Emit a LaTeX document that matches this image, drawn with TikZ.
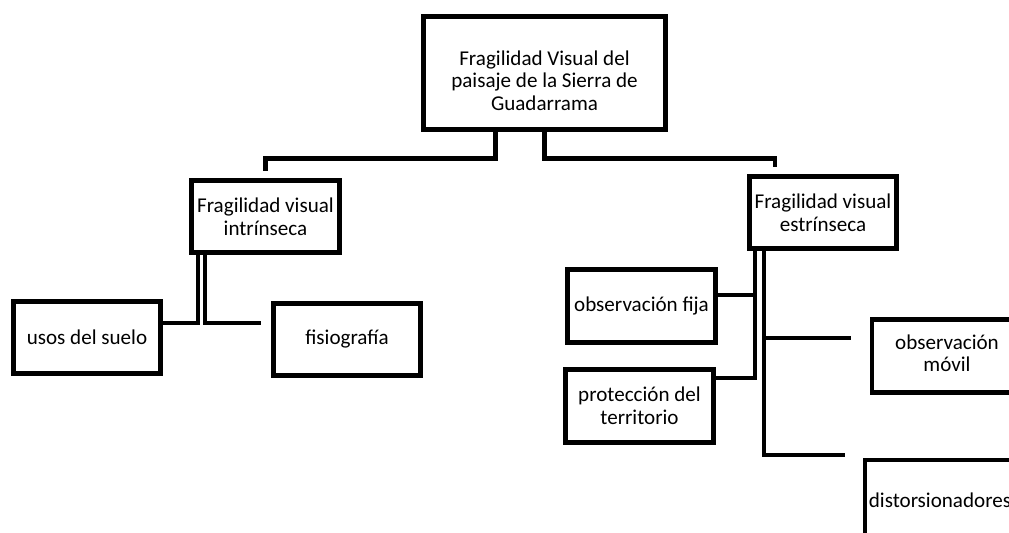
\documentclass[tikz,border=0pt]{standalone}
\usepackage{fontspec}
\setmainfont{Carlito}
\usepackage{tikz}

\begin{document}
\begin{tikzpicture}[x=0.02cm,y=-0.02cm,
    font=\fontsize{12}{13}\selectfont,
    box/.style={draw,line width=2.8pt,align=center,inner sep=1pt,
      minimum width=2.95cm,minimum height=1.45cm},
    cutbox/.style={box,minimum width=3.6cm},
    link/.style={line width=2.8pt}]
  \path[use as bounding box,clip] (0,0) rectangle (1009,532);

  \node[box,minimum width=4.85cm,minimum height=2.27cm] (top) at (544.5,73)
    {\rule{0pt}{17pt}Fragilidad Visual del\\paisaje de la Sierra de\\Guadarrama};
  \node[box] (intr) at (265.5,216.5) {Fragilidad visual\\intrínseca};
  \node[box] (estr) at (823,212.5) {Fragilidad visual\\estrínseca};
  \node[box] (usos) at (87,337.5) {usos del suelo};
  \node[box] (fisio) at (347,339.5) {fisiografía};
  \node[box] (fija) at (641.5,306) {observación fija};
  \node[box] (prot) at (639.5,406) {protección del\\territorio};
  % these two run past the right border
  \node[cutbox,align=none] (movil) at (962,356)
    {\begin{tabular}{@{}c@{}}observación\\móvil\end{tabular}\kern0.6cm};
  \node[cutbox,align=none,minimum height=1.6cm] (dist) at (955,500)
    {distorsionadores\kern0.6cm};

  % first level
  \draw[link] ([xshift=-0.98cm]top.south) -- ++(0,26) -| ([yshift=4pt]intr.north);
  \draw[link] (top.south) -- ++(0,26) -| ([xshift=-0.96cm,yshift=4pt]estr.north);

  % under the intrinsic box
  \draw[link] ([xshift=-1.35cm]intr.south) |- ([yshift=0.29cm]usos.east);
  \draw[link] ([xshift=-1.21cm]intr.south) |- ([xshift=-0.2cm,yshift=0.33cm]fisio.west);

  % under the extrinsic box
  \draw[link] ([xshift=-1.36cm]estr.south) |- ([yshift=0.22cm]fija.east);
  \draw[link] ([xshift=-1.36cm]estr.south) |- ([yshift=0.56cm]prot.east);
  \draw[link] ([xshift=-1.18cm]estr.south) |- ([xshift=-0.38cm,yshift=0.36cm]movil.west);
  \draw[link] ([xshift=-1.18cm]estr.south) |- ([xshift=-0.36cm,yshift=0.9cm]dist.west);
\end{tikzpicture}
\end{document}
